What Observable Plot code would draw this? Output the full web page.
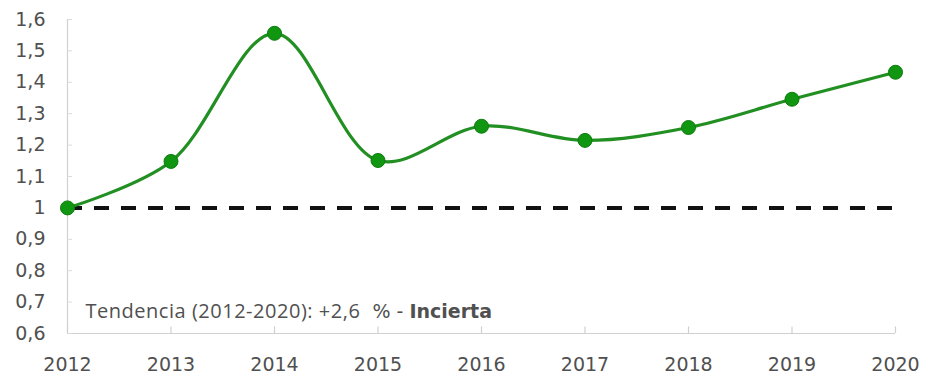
<!DOCTYPE html>
<html><head><meta charset="utf-8">
<script src="https://cdn.jsdelivr.net/npm/d3@7"></script>
<script src="https://cdn.jsdelivr.net/npm/@observablehq/plot@0.6"></script>
<style>
html,body{margin:0;padding:0;background:#fff;}
</style>
</head><body>
<div id="chart"></div>
<script>
const years = [2012, 2013, 2014, 2015, 2016, 2017, 2018, 2019, 2020];
const values = [1.0, 1.148, 1.556, 1.151, 1.26, 1.215, 1.256, 1.346, 1.432];
const yTicks = [0.6, 0.7, 0.8, 0.9, 1.0, 1.1, 1.2, 1.3, 1.4, 1.5, 1.6];
const baseline = 1;
const noteText = "Tendencia (2012-2020): +2,6";
const noteMid = "  % - ";
const noteBold = "Incierta";

const data = years.map((y, i) => ({year: y, value: values[i]}));
const fmt = d => String(d).replace(".", ",");

const plot = Plot.plot({
  width: 925,
  height: 378,
  marginLeft: 67,
  marginRight: 30,
  marginTop: 19,
  marginBottom: 45,
  style: {fontFamily: "DejaVu Sans, Verdana, sans-serif", background: "#fff"},
  x: {type: "linear", domain: [2012, 2020]},
  y: {domain: [0.6, 1.6]},
  marks: [
    Plot.ruleX([2012], {stroke: "#d0d0d0", strokeWidth: 1.2}),
    Plot.ruleY([0.6], {stroke: "#d0d0d0", strokeWidth: 1.2}),
    Plot.ruleX(years, {x: d => d, y1: 0.6, y2: 0.621, stroke: "#d0d0d0", strokeWidth: 1.2}),
    Plot.ruleY(yTicks, {y: d => d, x1: 2012, x2: 2012.05, stroke: "#dadada", strokeWidth: 1}),
    Plot.axisY({ticks: yTicks, tickFormat: fmt, tickSize: 0, tickPadding: 22, fontSize: 19, fill: "#505050", label: null}),
    Plot.axisX({ticks: years, tickFormat: d => String(d), tickSize: 0, tickPadding: 24, fontSize: 19, fill: "#505050", label: null}),
    Plot.ruleY([baseline], {x1: 2012, x2: 2020, stroke: "#111", strokeWidth: 4, strokeDasharray: "15,12"}),
    Plot.lineY(data, {x: "year", y: "value", curve: "catmull-rom", stroke: "#228f22", strokeWidth: 3.2}),
    Plot.dot(data, {x: "year", y: "value", r: 7, fill: "#119611", stroke: "#0d7d0d", strokeWidth: 1}),
    Plot.text([noteText], {frameAnchor: "bottom-left", dx: 18, dy: -16, text: d => d, textAnchor: "start", fontSize: 20, fill: "#505050", className: "note"})
  ]
});
document.getElementById("chart").appendChild(plot);
const t = d3.select(plot).select("g.note text");
if (!t.empty()) {
  t.text(null);
  const first = t.append("tspan").attr("font-family", "Open Sans, Lato, sans-serif").attr("font-size", 20).text(noteText);
  t.append("tspan").attr("font-family", "DejaVu Sans, Verdana, sans-serif").attr("font-size", 19).style("white-space", "pre").text(noteMid);
  t.append("tspan").attr("font-weight", "bold").attr("font-family", "DejaVu Sans, Verdana, sans-serif").attr("font-size", 19).text(noteBold);
  const len = first.node().getComputedTextLength();
  const target = 275;
  first.attr("letter-spacing", ((target - len) / noteText.length).toFixed(2));
}
</script>
</body></html>
